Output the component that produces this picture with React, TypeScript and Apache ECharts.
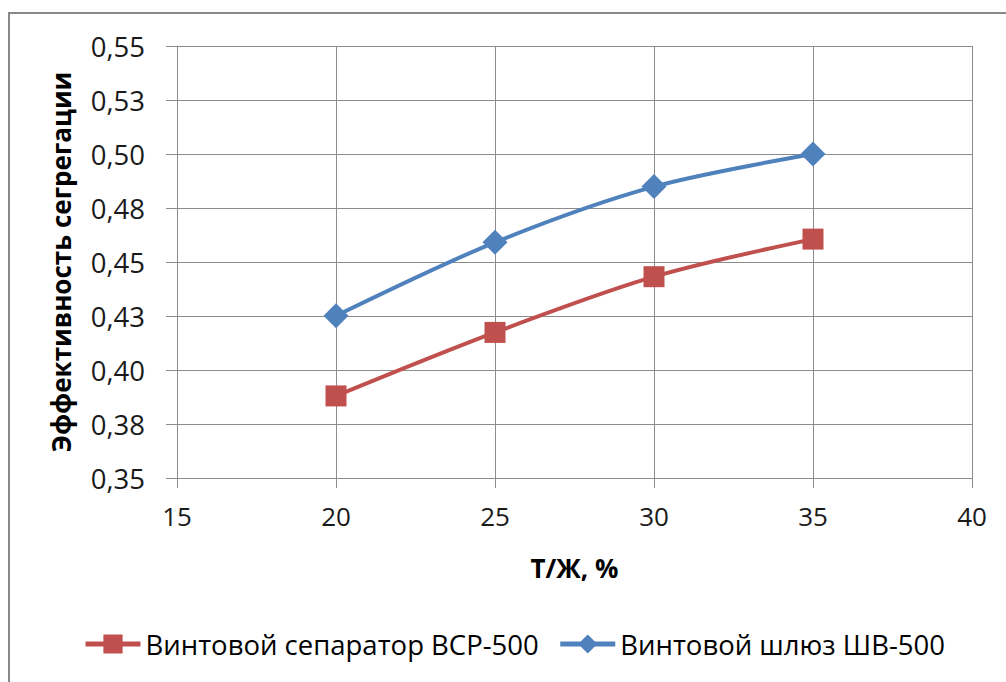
import React, { useEffect, useRef } from "react";
import * as echarts from "echarts";

const xValues = [20, 25, 30, 35];
const separatorValues = [0.388, 0.4174, 0.4432, 0.4606];
const sluiceValues = [0.4251, 0.4591, 0.4849, 0.5];
const seriesNames = ["Винтовой сепаратор ВСР-500", "Винтовой шлюз ШВ-500"];
const xAxisTitle = "Т/Ж, %";
const yAxisTitle = "Эффективность сегрегации";

const FONT = "'Open Sans', sans-serif";

export default function App() {
  const ref = useRef<HTMLDivElement>(null);
  useEffect(() => {
    if (!ref.current) return;
    const chart = echarts.init(ref.current, undefined, { renderer: "svg" });
    const fmtY = (v: number) =>
      (Math.round(v * 100 + 1e-7) / 100).toFixed(2).replace(".", ",");
    chart.setOption({
      animation: false,
      backgroundColor: "#ffffff",
      textStyle: { fontFamily: FONT },
      graphic: [
        {
          type: "rect",
          shape: { x: 9, y: 13, width: 1200, height: 900 },
          style: { fill: "none", stroke: "#888888", lineWidth: 2 },
          silent: true,
        },
      ],
      grid: { left: 177, top: 46, right: 34, bottom: 204 },
      legend: {
        left: 83,
        top: 630,
        padding: 0,
        itemWidth: 55,
        itemHeight: 24,
        itemGap: 19,
        lineStyle: { width: 5 },
        textStyle: { fontFamily: FONT, fontSize: 27.5, color: "#000" },
        data: seriesNames,
      },
      xAxis: {
        type: "value",
        min: 15,
        max: 40,
        interval: 5,
        name: xAxisTitle,
        nameLocation: "middle",
        nameGap: 77,
        nameTextStyle: { fontFamily: FONT, fontSize: 26, fontWeight: "bold", color: "#000" },
        axisLine: { show: true, lineStyle: { color: "#8c8c8c", width: 1 } },
        axisTick: { show: true, length: 10, lineStyle: { color: "#8c8c8c" } },
        axisLabel: { fontFamily: FONT, fontSize: 26, color: "#1a1a1a", margin: 25 },
        splitLine: { show: true, lineStyle: { color: "#8c8c8c", width: 1 } },
      },
      yAxis: {
        type: "value",
        min: 0.35,
        max: 0.55,
        interval: 0.025,
        name: yAxisTitle,
        nameLocation: "middle",
        nameGap: 103,
        nameTextStyle: { fontFamily: FONT, fontSize: 26, fontWeight: "bold", color: "#000" },
        axisLine: { show: true, lineStyle: { color: "#8c8c8c", width: 1 } },
        axisTick: { show: true, length: 11, lineStyle: { color: "#8c8c8c" } },
        axisLabel: { fontFamily: FONT, fontSize: 27.5, color: "#1a1a1a", margin: 32, formatter: fmtY },
        splitLine: { show: true, lineStyle: { color: "#8c8c8c", width: 1 } },
      },
      series: [
        {
          name: seriesNames[0],
          type: "line",
          smooth: 0.3,
          data: xValues.map((x, i) => [x, separatorValues[i]]),
          symbol: "rect",
          symbolSize: 21,
          lineStyle: { color: "#C0504D", width: 4 },
          itemStyle: { color: "#C0504D" },
        },
        {
          name: seriesNames[1],
          type: "line",
          smooth: 0.3,
          data: xValues.map((x, i) => [x, sluiceValues[i]]),
          symbol: "diamond",
          symbolSize: 25,
          lineStyle: { color: "#4F81BD", width: 4 },
          itemStyle: { color: "#4F81BD" },
        },
      ],
    });
    return () => chart.dispose();
  }, []);
  return (
    <div
      ref={ref}
      style={{ position: "fixed", left: 0, top: 0, width: 1006, height: 682 }}
    />
  );
}
